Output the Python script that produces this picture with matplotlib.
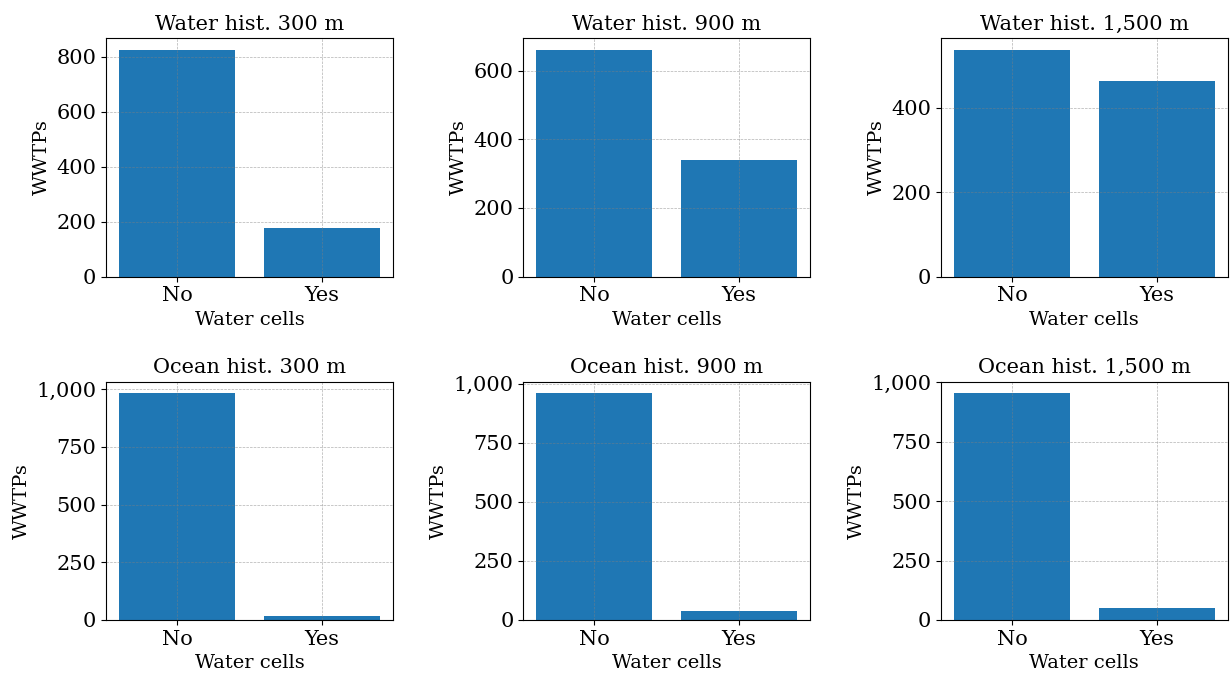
import matplotlib

matplotlib.use("Agg")
import matplotlib.pyplot as plt
from matplotlib.ticker import FuncFormatter, MaxNLocator

plt.rcParams["font.family"] = "DejaVu Serif"

categories = ["No", "Yes"]
distances = [300, 900, 1500]

# WWTP counts per buffer distance: [no water cells, water cells]
water_counts = [[825, 176], [661, 339], [537, 463]]
ocean_counts = [[984, 16], [961, 39], [956, 50]]

fig = plt.figure(figsize=(12.3, 6.75), dpi=100)

lefts = [0.0862, 0.4254, 0.765]
bottoms = [0.5901, 0.0815]
width, height = 0.2331, 0.3532

comma = FuncFormatter(lambda v, _: f"{v:,.0f}")

for row, (name, counts) in enumerate([("Water", water_counts), ("Ocean", ocean_counts)]):
    for col, dist in enumerate(distances):
        ax = fig.add_axes([lefts[col], bottoms[row], width, height])
        ax.bar(categories, counts[col], color="#1f77b4")
        ax.set_title(f"{name} hist. {dist:,} m", fontsize=15)
        ax.set_xlabel("Water cells", fontsize=14)
        ax.set_ylabel("WWTPs", fontsize=14)
        ax.tick_params(labelsize=15)
        ax.yaxis.set_major_locator(MaxNLocator(nbins=5, steps=[1, 2, 2.5, 5, 10]))
        ax.yaxis.set_major_formatter(comma)
        ax.grid(True, linestyle="--", linewidth=0.5, color="gray", alpha=0.6)

fig.savefig("out.png", dpi=100)
